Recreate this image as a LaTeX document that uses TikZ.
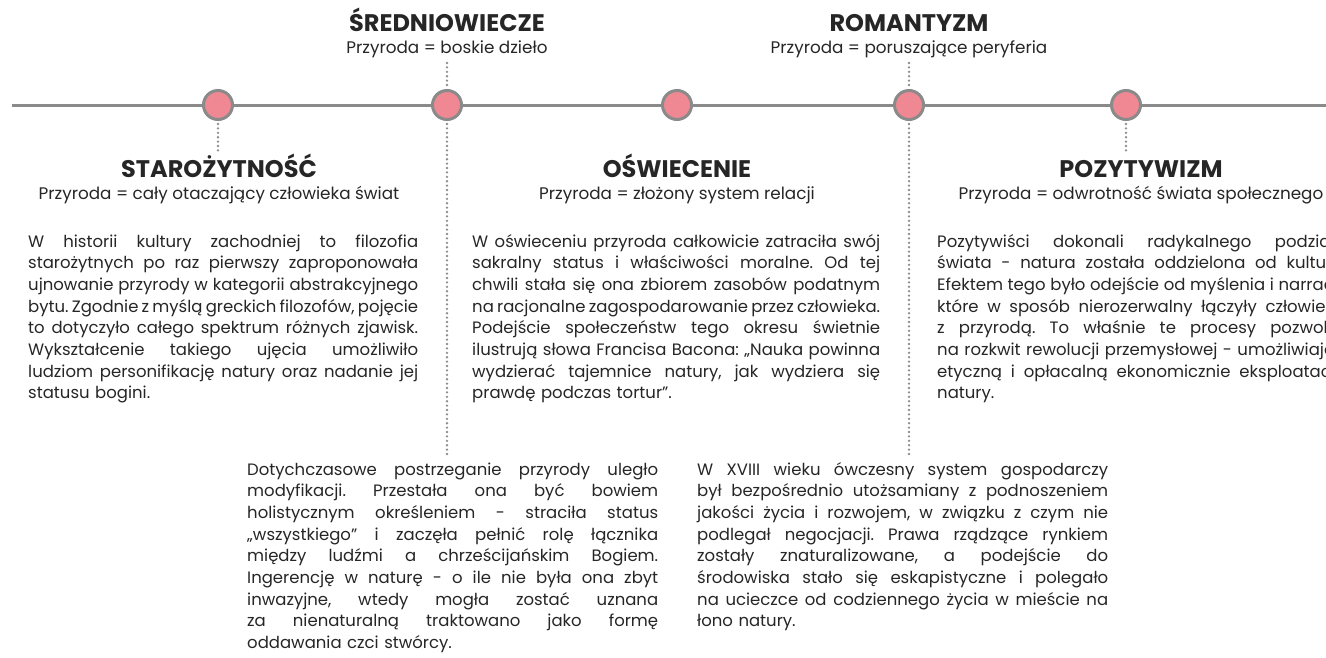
\documentclass[tikz,border=0pt]{standalone}
\usepackage{fontspec}
\setmainfont{Poppins}
\definecolor{pinkfill}{HTML}{EF8892}
\definecolor{linegray}{HTML}{8A8A8A}
\definecolor{dotgray}{HTML}{8E8E8E}
\definecolor{txt}{HTML}{262626}
\newlength\bodyw
\newcommand\jl[1]{\makebox[\bodyw][s]{\spaceskip=0.21em plus 1fil minus 0.08em\relax #1}\\}
\tikzset{
  era/.style={circle, draw=linegray, line width=3pt, fill=pinkfill, minimum size=29pt, inner sep=0pt},
  conn/.style={dotgray, line width=2.6pt, dash pattern=on 0pt off 4.4pt, line cap=round},
  eratitle/.style={font=\bfseries\fontsize{24}{28}\selectfont, text=txt, inner sep=0pt, anchor=base},
  erasub/.style={font=\fontsize{16.8}{20}\selectfont, text=txt, inner sep=0pt, anchor=base},
  body/.style={font=\frenchspacing\fontsize{16.5}{21.7}\selectfont, text=txt, inner sep=0pt, anchor=base west, align=left,
    text width=#1, execute at begin node={\setlength\bodyw{#1}}},
}
\begin{document}
\begin{tikzpicture}[x=1pt,y=-1pt]
\useasboundingbox (0,0) rectangle (1326,657);
\clip (0,0) rectangle (1326,657);
\fill[white] (0,0) rectangle (1326,657);
% timeline
\coordinate (tlA) at (12,105);
\coordinate (tlB) at (1330,105);
\draw[linegray, line width=3pt] (tlA) -- (tlB);
\node[era] (c1) at (218,105) {};
\node[era] (c2) at (447,105) {};
\node[era] (c3) at (677,105) {};
\node[era] (c4) at (909,105) {};
\node[era] (c5) at (1126,105) {};
% titles
\node[eratitle] (t2) at (447,31) {ŚREDNIOWIECZE};
\node[erasub] (s2) at (447,53) {Przyroda = boskie dzieło};
\node[eratitle] (t4) at (909,31) {ROMANTYZM};
\node[erasub] (s4) at (909,53) {Przyroda = poruszające peryferia};
\node[eratitle] (t1) at (219,177) {STAROŻYTNOŚĆ};
\node[erasub] (s1) at (219,199) {Przyroda = cały otaczający człowieka świat};
\node[eratitle] (t3) at (677,177) {OŚWIECENIE};
\node[erasub] (s3) at (677,199) {Przyroda = złożony system relacji};
\node[eratitle] (t5) at (1141,177) {POZYTYWIZM};
\node[erasub] (s5) at (1141,199) {Przyroda = odwrotność świata społecznego};
% connector ends
\coordinate (e1) at (218,153);
\coordinate (e2a) at (447,63);
\coordinate (e2b) at (447,457);
\coordinate (e4a) at (909,63);
\coordinate (e4b) at (909,457);
\coordinate (e5) at (1126,153);
\draw[conn] ([yshift=-3pt]c1.south) -- (e1);
\draw[conn] (e2a) -- ([yshift=3pt]c2.north);
\draw[conn] ([yshift=-3pt]c2.south) -- (e2b);
\draw[conn] (e4a) -- ([yshift=3pt]c4.north);
\draw[conn] ([yshift=-3pt]c4.south) -- (e4b);
\draw[conn] ([yshift=-3pt]c5.south) -- (e5);
% bodies
\node[body=390pt] (b1) at (28,247) {%
\jl{W historii kultury zachodniej to filozofia}
\jl{starożytnych po raz pierwszy zaproponowała}
\jl{ujnowanie przyrody w kategorii abstrakcyjnego}
\jl{bytu. Zgodnie z myślą greckich filozofów, pojęcie}
\jl{to dotyczyło całego spektrum różnych zjawisk.}
\jl{Wykształcenie takiego ujęcia umożliwiło}
\jl{ludziom personifikację natury oraz nadanie jej}
statusu bogini.};
\node[body=408pt] (b3) at (472,247) {%
\jl{W oświeceniu przyroda całkowicie zatraciła swój}
\jl{sakralny status i właściwości moralne. Od tej}
\jl{chwili stała się ona zbiorem zasobów podatnym}
\jl{na racjonalne zagospodarowanie przez człowieka.}
\jl{Podejście społeczeństw tego okresu świetnie}
\jl{ilustrują słowa Francisa Bacona: „Nauka powinna}
\jl{wydzierać tajemnice natury, jak wydziera się}
prawdę podczas tortur”.};
\node[body=408pt] (b5) at (937,247) {%
\jl{Pozytywiści dokonali radykalnego podziału}
\jl{świata - natura została oddzielona od kultury.}
\jl{Efektem tego było odejście od myślenia i narracji,}
\jl{które w sposób nierozerwalny łączyły człowieka}
\jl{z przyrodą. To właśnie te procesy pozwoliły}
\jl{na rozkwit rewolucji przemysłowej - umożliwiając}
\jl{etyczną i opłacalną ekonomicznie eksploatację}
natury.};
\node[body=411pt] (b2) at (247,475) {%
\jl{Dotychczasowe postrzeganie przyrody uległo}
\jl{modyfikacji. Przestała ona być bowiem}
\jl{holistycznym określeniem - straciła status}
\jl{„wszystkiego” i zaczęła pełnić rolę łącznika}
\jl{między ludźmi a chrześcijańskim Bogiem.}
\jl{Ingerencję w naturę - o ile nie była ona zbyt}
\jl{inwazyjne, wtedy mogła zostać uznana}
\jl{za nienaturalną traktowano jako formę}
oddawania czci stwórcy.};
\node[body=411pt] (b4) at (697,475) {%
\jl{W XVIII wieku ówczesny system gospodarczy}
\jl{był bezpośrednio utożsamiany z podnoszeniem}
\jl{jakości życia i rozwojem, w związku z czym nie}
\jl{podlegał negocjacji. Prawa rządzące rynkiem}
\jl{zostały znaturalizowane, a podejście do}
\jl{środowiska stało się eskapistyczne i polegało}
\jl{na ucieczce od codziennego życia w mieście na}
łono natury.};
\end{tikzpicture}
\end{document}
